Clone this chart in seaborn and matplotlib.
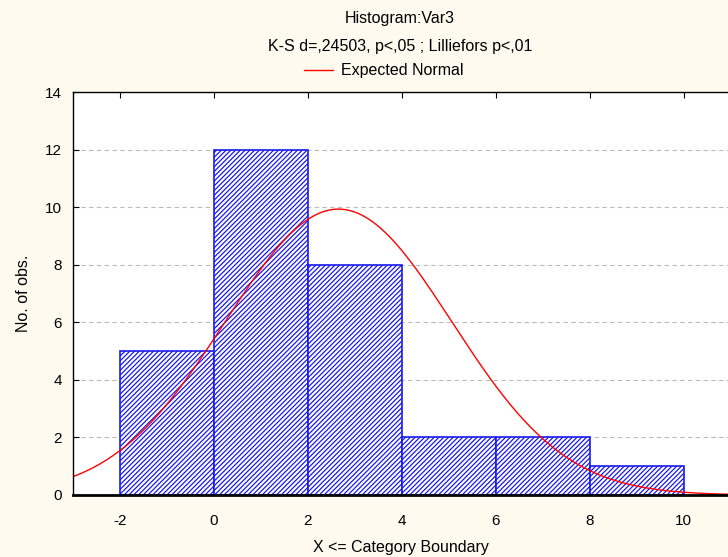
# import libraries
import numpy as np
import pandas as pd
import matplotlib
matplotlib.use("Agg")
import matplotlib.pyplot as plt
import seaborn as sns

# histogram data
binEdges = [-2, 0, 2, 4, 6, 8, 10]
binCounts = [5, 12, 8, 2, 2, 1]

# expected normal parameters (fitted to the chart)
nObs = sum(binCounts)
binWidth = 2
meanVal = 2.65
sdVal = 2.41

xTicks = [-2, 0, 2, 4, 6, 8, 10]
yTicks = [0, 2, 4, 6, 8, 10, 12, 14]

# style
sns.set_style("white")
plt.rcParams['font.family'] = ['Liberation Sans Narrow', 'Liberation Sans', 'DejaVu Sans']
plt.rcParams['axes.unicode_minus'] = False
plt.rcParams['text.color'] = 'black'
plt.rcParams['axes.labelcolor'] = 'black'
plt.rcParams['xtick.color'] = 'black'
plt.rcParams['ytick.color'] = 'black'
plt.rcParams['hatch.linewidth'] = 0.9
bgColor = "#fffaf0"

fig = plt.figure(figsize=(7.28, 5.57), dpi=100, facecolor=bgColor)
ax = fig.add_axes([73/728, 62/557, 655/728, 403/557])
ax.set_facecolor("white")

# histogram via bin centres weighted by counts
centres = [(binEdges[i] + binEdges[i+1]) / 2 for i in range(len(binCounts))]
histDf = pd.DataFrame({"x": centres, "n": binCounts})
sns.histplot(data=histDf, x="x", weights="n", bins=binEdges, ax=ax,
             color="white", edgecolor="#1010ee", linewidth=1.2, alpha=1)
for p in ax.patches:
    p.set_facecolor("white")
    p.set_hatch("///////")
    p.set_edgecolor("#1a1aee")

# expected normal curve
xs = np.linspace(-3, 11, 300)
ys = nObs * binWidth * np.exp(-(xs - meanVal) ** 2 / (2 * sdVal ** 2)) / (sdVal * np.sqrt(2 * np.pi))
sns.lineplot(x=xs, y=ys, ax=ax, color="red", linewidth=1, label="Expected Normal", legend=False)

ax.set_xlim(-3, 10.94)
ax.set_ylim(0, 14)
ax.set_xticks(xTicks)
ax.set_yticks(yTicks)
ax.tick_params(axis='x', bottom=False, top=True, labelbottom=True, direction='in', length=4, labelsize=11, pad=14)
ax.tick_params(axis='y', left=True, direction='in', length=4, labelsize=11, pad=8)
ax.yaxis.grid(True, linestyle=(0, (4, 3)), color="#bbbbbb", linewidth=0.8)
ax.set_axisbelow(True)
for s in ax.spines.values():
    s.set_color("black")
    s.set_linewidth(1)
ax.spines['bottom'].set_linewidth(2)
ax.spines['right'].set_visible(False)

ax.set_xlabel('X <= Category Boundary', fontsize=11.5, labelpad=8)
ax.set_ylabel('No. of obs.', fontsize=11.5, labelpad=10)

# titles and legend
fig.text(400/728, 1 - 18/557, 'Histogram:Var3', ha='center', va='center', fontsize=11.5)
fig.text(400/728, 1 - 46/557, 'K-S d=,24503, p<,05 ; Lilliefors p<,01', ha='center', va='center', fontsize=11.5)
handles, labels = ax.get_legend_handles_labels()
fig.legend(handles, labels, loc='center', bbox_to_anchor=(384/728, 1 - 71/557), frameon=False,
           fontsize=11.5, handlelength=1.8, handletextpad=0.5)

plt.savefig('out.png', facecolor=bgColor)
